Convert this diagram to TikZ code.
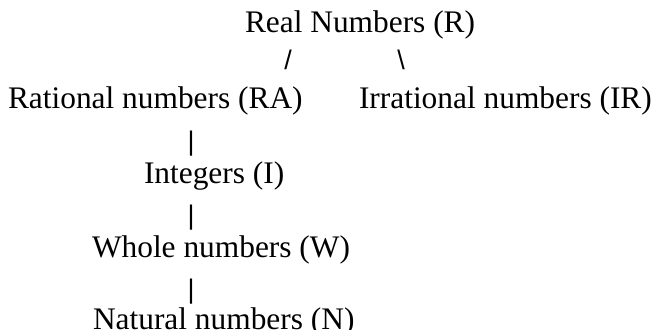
\documentclass[tikz,border=0pt]{standalone}
\usepackage{fontspec}
\setmainfont{Liberation Serif}
\newfontfamily\connfont{Liberation Sans}
\tikzset{
  label/.style={anchor=base west, inner sep=0pt, outer sep=0pt, font=\fontsize{31.5}{37}\selectfont},
  conn/.style={anchor=center, inner sep=0pt, outer sep=0pt, font=\connfont\fontsize{27}{30}\selectfont}
}
\begin{document}
\begin{tikzpicture}[x=1bp, y=-1bp]
  \useasboundingbox (0,0) rectangle (661,329);
  \node[label] (R)  at (245,32)  {Real Numbers (R)};
  \node[conn]  (c1) at (288,60)  {/};
  \node[conn]  (c2) at (401,60)  {\textbackslash};
  \node[label] (RA) at (8,108)   {Rational numbers (RA)};
  \node[label] (IR) at (359,108) {Irrational numbers (IR)};
  \node[conn]  (c3) at (191,144) {|};
  \node[label] (I)  at (144,183) {Integers (I)};
  \node[conn]  (c4) at (191,218) {|};
  \node[label] (W)  at (92,257)  {Whole numbers (W)};
  \node[conn]  (c5) at (191,292) {|};
  \node[label] (N)  at (93,329)  {Natural numbers (N)};
\end{tikzpicture}
\end{document}
